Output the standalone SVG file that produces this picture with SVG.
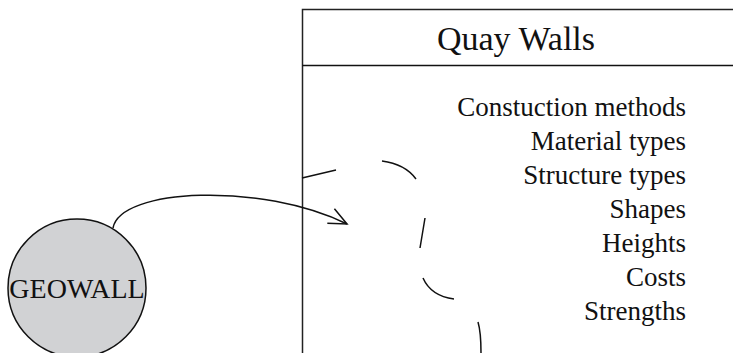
<svg xmlns="http://www.w3.org/2000/svg" width="733" height="353" viewBox="0 0 733 353">
  <style>
    .txt { font-family: "Liberation Serif", "Times New Roman", serif; fill: #111; }
    .box { fill: #fff; stroke: #222; stroke-width: 1.5; }
    .line { fill: none; stroke: #111; stroke-width: 1.5; }
    .list { font-size: 27px; text-anchor: end; }
  </style>
  <defs>
    <marker id="open-arrow" markerUnits="userSpaceOnUse" markerWidth="24" markerHeight="20" viewBox="-20 -10 24 20" refX="0" refY="0" orient="auto" overflow="visible">
      <path d="M-18,-8 L0,0 L-18,8" fill="none" stroke="#111" stroke-width="1.5"/>
    </marker>
  </defs>
  <rect width="733" height="353" fill="#fff"/>

  <g id="quay-walls">
    <rect class="box" x="302.5" y="9.5" width="460" height="360"/>
    <line class="line" x1="302.5" y1="65.5" x2="740" y2="65.5" stroke="#333"/>
    <text class="txt" x="516" y="50" font-size="34" text-anchor="middle">Quay Walls</text>
    <text class="txt list" x="686" y="116">Constuction methods</text>
    <text class="txt list" x="686" y="150">Material types</text>
    <text class="txt list" x="686" y="184">Structure types</text>
    <text class="txt list" x="686" y="218">Shapes</text>
    <text class="txt list" x="686" y="252">Heights</text>
    <text class="txt list" x="686" y="286">Costs</text>
    <text class="txt list" x="686" y="320">Strengths</text>
  </g>

  <g id="geowall">
    <circle cx="77" cy="288" r="69" fill="#d1d2d4" stroke="#111" stroke-width="1.5"/>
    <text class="txt" x="77" y="298" font-size="28" text-anchor="middle">GEOWALL</text>
  </g>

  <g id="connectors">
    <path class="line" d="M113,228 C120,188 262,182 347,224" marker-end="url(#open-arrow)"/>
    <path class="line" d="M302,178 L336,170 M382,161 Q405,164 416,179 M425,218 L420,248 M423,278 Q431,296 454,299 M478,322 Q481,332 481,353"/>
  </g>
</svg>
